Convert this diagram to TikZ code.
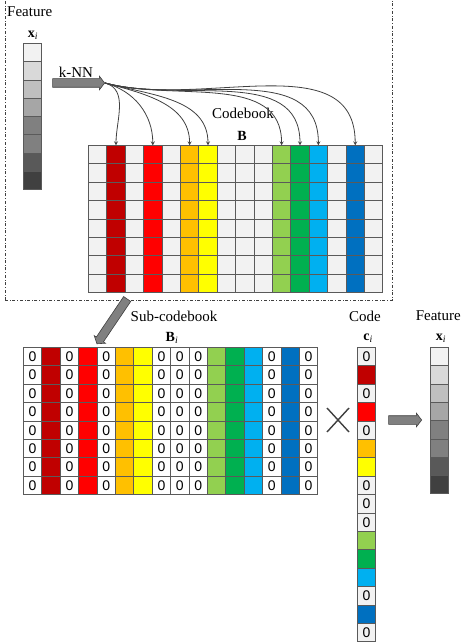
\documentclass[tikz,border=0pt]{standalone}
\usepackage{fontspec}
\setmainfont{Liberation Serif}
\newfontfamily\zerofont{Liberation Sans}
\usetikzlibrary{calc}
\usetikzlibrary{matrix}
\usetikzlibrary{positioning}
\usetikzlibrary{shapes.arrows}
\definecolor{cDarkRed}{HTML}{C00000}
\definecolor{cRed}{HTML}{FF0000}
\definecolor{cOrange}{HTML}{FFC000}
\definecolor{cYellow}{HTML}{FFFF00}
\definecolor{cLime}{HTML}{92D050}
\definecolor{cGreen}{HTML}{00B050}
\definecolor{cSky}{HTML}{00B0F0}
\definecolor{cBlue}{HTML}{0070C0}
\definecolor{cCell}{HTML}{F2F2F2}
\definecolor{cLine}{HTML}{5A5A5A}
\definecolor{cEdge}{HTML}{404040}
\newcommand\featvec[2]{
    \matrix (#2) at (#1) [vecmatrix]{
        |[fill=cCell]|\\
        |[fill=black!15]|\\
        |[fill=black!25]|\\
        |[fill=black!35]|\\
        |[fill=black!50]|\\
        |[fill=black!50]|\\
        |[fill=black!65]|\\
        |[fill=black!75]|\\
    };
}

\begin{document}
\begin{tikzpicture}[x=1pt, y=1pt,
        X/.style={draw=cLine, line width=0.8pt, fill=cCell, minimum width=18.4pt,
            minimum height=18.4pt, inner sep=0pt, outer sep=0pt, anchor=center,
            font=\zerofont\fontsize{14}{14}\selectfont},
        mymatrix/.style={matrix of nodes, anchor=north west, inner sep=0pt,
            outer sep=0pt, row sep=-0.8pt,
            column sep=-0.8pt, nodes={X}, nodes in
        empty cells},
        vecmatrix/.style={mymatrix, nodes={X, minimum height=18.3pt}},
        codecols/.style={
            column 2/.style={nodes={fill=cDarkRed}},
            column 4/.style={nodes={fill=cRed}},
            column 6/.style={nodes={fill=cOrange}},
            column 7/.style={nodes={fill=cYellow}},
            column 11/.style={nodes={fill=cLime}},
            column 12/.style={nodes={fill=cGreen}},
            column 13/.style={nodes={fill=cSky}},
            column 15/.style={nodes={fill=cBlue}}},
        coderows/.style={
            row 2/.style={nodes={fill=cDarkRed}},
            row 4/.style={nodes={fill=cRed}},
            row 6/.style={nodes={fill=cOrange}},
            row 7/.style={nodes={fill=cYellow}},
            row 11/.style={nodes={fill=cLime}},
            row 12/.style={nodes={fill=cGreen}},
            row 13/.style={nodes={fill=cSky}},
            row 15/.style={nodes={fill=cBlue}}},
        blockarrow/.style={single arrow, draw=cEdge, fill=black!50, line width=0.6pt,
            inner sep=4pt, minimum width=0pt, single arrow head extend=2.5pt,
            single arrow tip angle=105},
        lbl/.style={font=\fontsize{15}{15}\selectfont, inner sep=0pt},
        sym/.style={font=\fontsize{14}{14}\selectfont, inner sep=0pt}
    ]
    \useasboundingbox (0,0) rectangle (461,-644);

    % dash-dotted frame round the search step
    \draw[cEdge, dash dot, line width=0.6pt] (5,-300) rectangle (392,10);

    % input feature
    \node[lbl, anchor=west] (feat) at (7,-12) {Feature};
    \featvec{23,-43}{xin}
    \node[sym] (xinlbl) at (33,-35) {\textbf{x}\textsubscript{\itshape i}};

    % k-NN search in codebook
    \node[blockarrow, minimum height=52pt] (knn) at (77,-83) {};
    \node[lbl] (knnlbl) at (76,-72) {k-NN};
    \matrix (B) at (88,-145) [mymatrix, codecols]{
        &&&&&&&&&&&&&&&\\
        &&&&&&&&&&&&&&&\\
        &&&&&&&&&&&&&&&\\
        &&&&&&&&&&&&&&&\\
        &&&&&&&&&&&&&&&\\
        &&&&&&&&&&&&&&&\\
        &&&&&&&&&&&&&&&\\
        &&&&&&&&&&&&&&&\\
    };
    \node[lbl] (cb) at (243,-113) {Codebook};
    \node[sym] (Blbl) at (242,-136) {\textbf{B}};
    \foreach \c in {2,4,6,7,11,12,13,15}
    {
        \draw[cEdge, line width=0.8pt, >=stealth, ->] (knn.tip) to[out=-15, in=90] (B-1-\c.north);
    }

    % sub-codebook
    \node[blockarrow, minimum height=54pt, rotate=236] (sub) at (113,-320) {};
    \node[lbl] (sublbl) at (174,-316) {Sub-codebook};
    \matrix (Bi) at (23,-347) [mymatrix, nodes={X, fill=white}, codecols]{
        0&&0&&0&&&0&0&0&&&&0&&0\\
        0&&0&&0&&&0&0&0&&&&0&&0\\
        0&&0&&0&&&0&0&0&&&&0&&0\\
        0&&0&&0&&&0&0&0&&&&0&&0\\
        0&&0&&0&&&0&0&0&&&&0&&0\\
        0&&0&&0&&&0&0&0&&&&0&&0\\
        0&&0&&0&&&0&0&0&&&&0&&0\\
        0&&0&&0&&&0&0&0&&&&0&&0\\
    };
    \node[sym] (Bilbl) at (172,-338) {\textbf{B}\textsubscript{\itshape i}};

    % times sign
    \coordinate (mul) at (338,-420);
    \draw[cEdge, line width=1.4pt] ($(mul)+(-11,12)$) -- ($(mul)+(11,-12)$);
    \draw[cEdge, line width=1.4pt] ($(mul)+(-11,-12)$) -- ($(mul)+(11,12)$);

    % code
    \matrix (ci) at (357,-347) [mymatrix, coderows]{
        0\\ \\ 0\\ \\ 0\\ \\ \\ 0\\ 0\\ 0\\ \\ \\ \\ 0\\ \\ 0\\
    };
    \node[sym] (cilbl) at (368,-338) {\textbf{c}\textsubscript{\itshape i}};
    \node[lbl] (code) at (365,-316) {Code};

    % reconstructed feature
    \node[blockarrow, minimum height=33pt] (out) at (403.5,-420) {};
    \featvec{430,-347}{xout}
    \node[sym] (xoutlbl) at (441,-338) {\textbf{x}\textsubscript{\itshape i}};
    \node[lbl, anchor=east] (featout) at (461,-316) {Feature};
\end{tikzpicture}
\end{document}
